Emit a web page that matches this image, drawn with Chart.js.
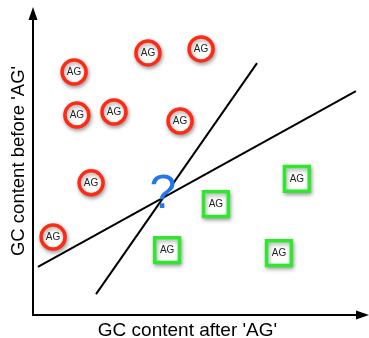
<!DOCTYPE html>
<html>
<head>
<meta charset="utf-8">
<script src="https://cdn.jsdelivr.net/npm/chart.js@4/dist/chart.umd.min.js"></script>
<style>
  html, body { margin: 0; padding: 0; background: #fff; }
  #wrap { width: 369px; height: 338px; }
</style>
</head>
<body>
<div id="wrap"><canvas id="c" width="369" height="338"></canvas></div>
<script>
// Markers: "AG" sites whose GC content before vs after differ
const redX   = [37.2, 54.4, 13.3, 14.2, 26.2, 47.6, 18.8, 6.5];
const redY   = [85.1, 86.4, 78.9, 64.9, 65.9, 63.0, 42.9, 25.3];
const greenX = [85.4, 59.2, 43.4, 79.6];
const greenY = [44.2, 36.0, 21.1, 20.1];
// Two candidate separating lines
const steepX   = [20.4, 72.5];
const steepY   = [6.8, 81.8];
const shallowX = [1.6, 104.5];
const shallowY = [15.6, 72.7];
// Question mark annotation position
const questionXY = [42.0, 34.7];
const markerLabel = 'AG';
const xTitle = "GC content after 'AG'";
const yTitle = "GC content before 'AG'";

const toPts = (xs, ys) => xs.map((x, i) => ({x: x, y: ys[i]}));
const FONT = "'Liberation Sans', Arial, Helvetica, sans-serif";

const shadowPlugin = {
  id: 'shadow',
  beforeDatasetDraw(chart, args) {
    const ds = chart.data.datasets[args.index];
    chart.ctx.save();
    if (ds._shadow) {
      chart.ctx.shadowColor = 'rgba(0,0,0,0.35)';
      chart.ctx.shadowBlur = 4;
      chart.ctx.shadowOffsetX = 1;
      chart.ctx.shadowOffsetY = 2;
    }
  },
  afterDatasetDraw(chart) { chart.ctx.restore(); }
};

const decorPlugin = {
  id: 'decor',
  beforeDatasetsDraw(chart) {
    const ctx = chart.ctx;
    const xs = chart.scales.x, ys = chart.scales.y;
    const ox = xs.getPixelForValue(0), oy = ys.getPixelForValue(0);
    const topTip = chart.chartArea.top;
    const rightTip = chart.width;
    ctx.save();
    ctx.strokeStyle = '#000';
    ctx.fillStyle = '#000';
    ctx.lineWidth = 2;
    ctx.beginPath();
    ctx.moveTo(ox, oy + 1);
    ctx.lineTo(ox, topTip + 12);
    ctx.moveTo(ox - 1, oy);
    ctx.lineTo(rightTip - 12, oy);
    ctx.stroke();
    ctx.beginPath();
    ctx.moveTo(ox, topTip);
    ctx.lineTo(ox - 4.5, topTip + 13);
    ctx.lineTo(ox + 4.5, topTip + 13);
    ctx.closePath();
    ctx.fill();
    ctx.beginPath();
    ctx.moveTo(rightTip, oy);
    ctx.lineTo(rightTip - 13, oy - 4.5);
    ctx.lineTo(rightTip - 13, oy + 4.5);
    ctx.closePath();
    ctx.fill();
    ctx.restore();
  },
  afterDatasetsDraw(chart) {
    const ctx = chart.ctx;
    ctx.save();
    ctx.fillStyle = '#222';
    ctx.font = '10px ' + FONT;
    ctx.textAlign = 'center';
    ctx.textBaseline = 'middle';
    [0, 1].forEach(di => {
      chart.getDatasetMeta(di).data.forEach(p => {
        ctx.fillText(markerLabel, p.x, p.y + 0.5);
      });
    });
    const xs = chart.scales.x, ys = chart.scales.y;
    ctx.fillStyle = '#2277ee';
    ctx.font = '48px ' + FONT;
    ctx.textBaseline = 'alphabetic';
    ctx.fillText('?', xs.getPixelForValue(questionXY[0]), ys.getPixelForValue(questionXY[1]));
    ctx.restore();
  }
};

new Chart(document.getElementById('c'), {
  type: 'scatter',
  data: {
    datasets: [
      {
        data: toPts(redX, redY),
        pointStyle: 'circle',
        pointRadius: 12,
        pointBorderWidth: 3.5,
        pointBorderColor: '#ff2a14',
        pointBackgroundColor: '#ffffff',
        _shadow: true
      },
      {
        data: toPts(greenX, greenY),
        pointStyle: 'rect',
        pointRadius: 17.5,
        pointBorderWidth: 3.5,
        pointBorderColor: '#2ee82e',
        pointBackgroundColor: '#ffffff',
        _shadow: true
      },
      {
        data: toPts(steepX, steepY),
        showLine: true,
        borderColor: '#000',
        borderWidth: 2,
        pointRadius: 0,
        clip: false
      },
      {
        data: toPts(shallowX, shallowY),
        showLine: true,
        borderColor: '#000',
        borderWidth: 2,
        pointRadius: 0,
        clip: false
      }
    ]
  },
  options: {
    responsive: false,
    animation: false,
    events: [],
    layout: { autoPadding: false, padding: { top: 7, right: 27, left: 0, bottom: 0 } },
    plugins: { legend: { display: false }, tooltip: { enabled: false } },
    scales: {
      x: {
        type: 'linear', min: 0, max: 100,
        ticks: { display: false },
        grid: { display: false, drawTicks: false },
        border: { display: false },
        title: {
          display: true, text: xTitle, color: '#000',
          font: { family: FONT, size: 19, lineHeight: 1.2 },
          padding: { top: 4, bottom: -3.8 }
        }
      },
      y: {
        type: 'linear', min: 0, max: 100,
        ticks: { display: false },
        grid: { display: false, drawTicks: false },
        border: { display: false },
        title: {
          display: true, text: yTitle, color: '#000',
          font: { family: FONT, size: 18.5, lineHeight: 1.2 },
          padding: { top: 7.5, bottom: 3.3 }
        }
      }
    }
  },
  plugins: [shadowPlugin, decorPlugin]
});
</script>
</body>
</html>
